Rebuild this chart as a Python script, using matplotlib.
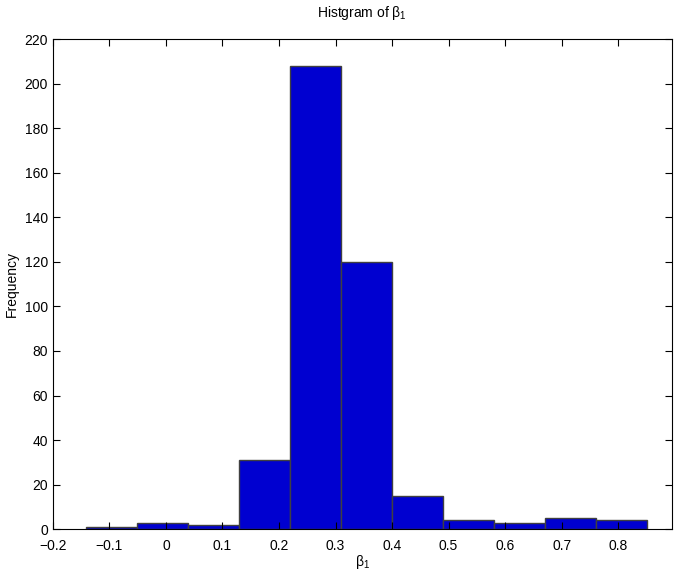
import numpy as np
import matplotlib
matplotlib.use("Agg")
import matplotlib.pyplot as plt

# histogram of beta_1
bin_left = -0.1415
bin_width = 0.0902
counts = [1, 3, 2, 31, 208, 120, 15, 4, 3, 5, 4]
xticks = [-0.2, -0.1, 0, 0.1, 0.2, 0.3, 0.4, 0.5, 0.6, 0.7, 0.8]
yticks = list(range(0, 221, 20))

plt.rcParams['font.family'] = ['Liberation Sans', 'DejaVu Sans']
plt.rcParams['mathtext.fontset'] = 'custom'
plt.rcParams['mathtext.rm'] = 'Liberation Sans'
plt.rcParams['mathtext.it'] = 'Liberation Sans:italic'

fig = plt.figure(figsize=(6.78, 5.74), dpi=100)
ax = fig.add_axes([0.078, 0.078, 0.913, 0.854])

edges = bin_left + bin_width * np.arange(len(counts))
ax.bar(edges, counts, width=bin_width, align='edge', color='#0000d0',
       edgecolor='#404040', linewidth=1.0)

ax.set_xlim(-0.2, 0.895)
ax.set_ylim(0, 220)
ax.set_xticks(xticks)
ax.set_xticklabels([('%g' % t).replace('-', '\u2212') for t in xticks])
ax.set_yticks(yticks)
ax.tick_params(direction='in', top=True, right=True, length=5, labelsize=10)
ax.tick_params(axis='x', pad=7)
for s in ax.spines.values():
    s.set_linewidth(0.8)

ax.set_title(r'Histgram of $\mathregular{\beta_1}$', fontsize=10, pad=16)
ax.set_xlabel(r'$\mathregular{\beta_1}$', fontsize=10, labelpad=0)
ax.set_ylabel('Frequency', fontsize=10)

fig.savefig("out.png", dpi=100)
